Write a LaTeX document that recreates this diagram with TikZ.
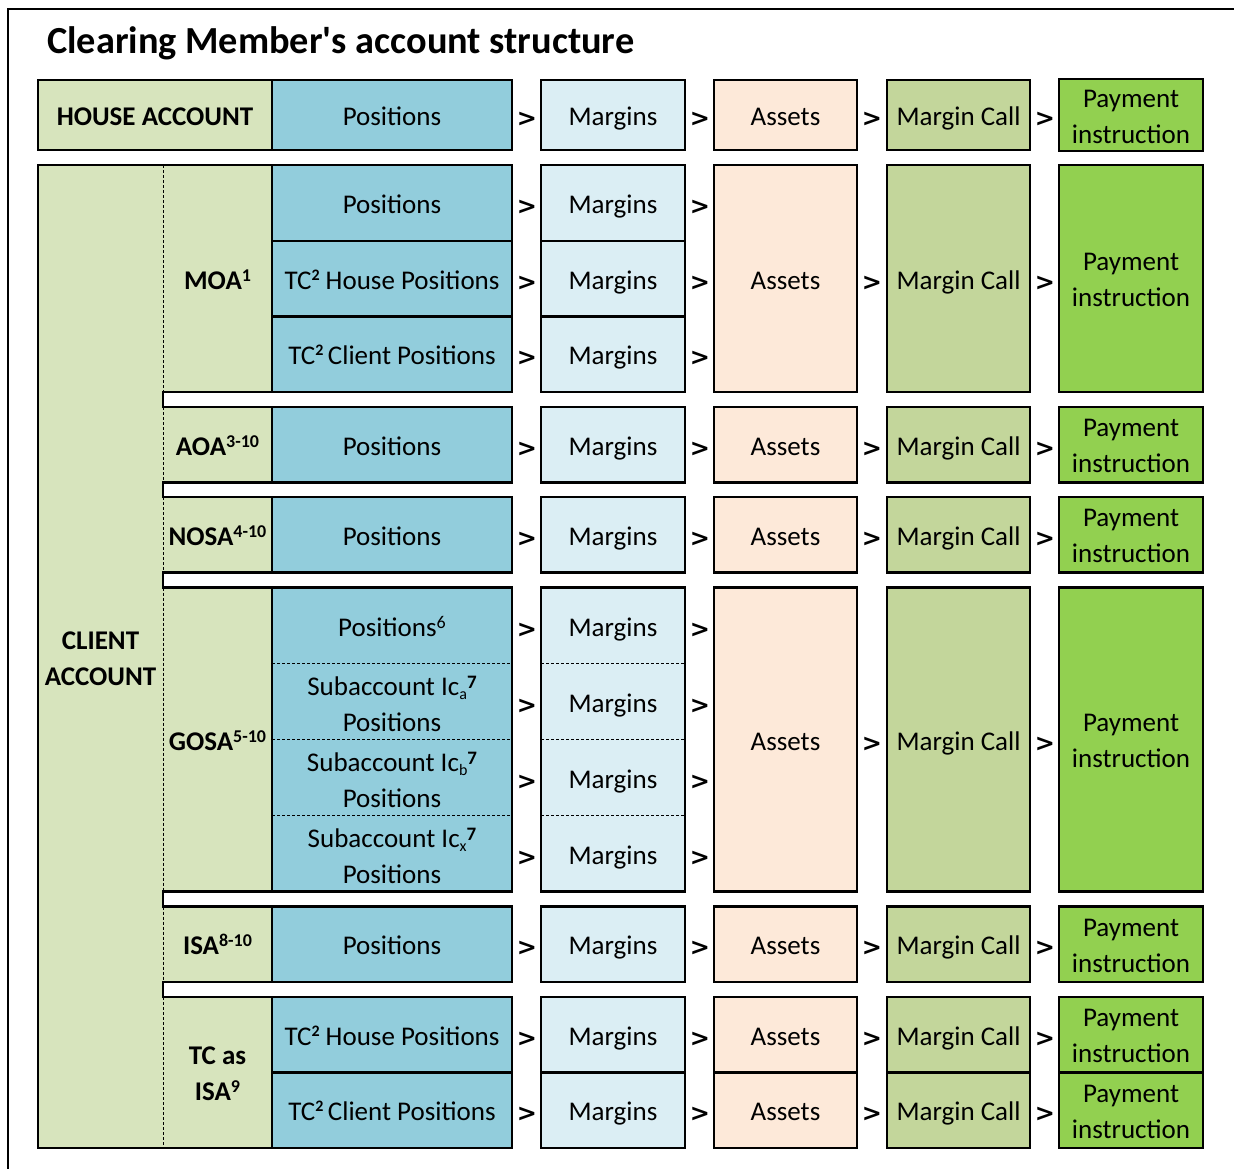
\documentclass[tikz,border=0pt]{standalone}
\usepackage{fontspec}
\setmainfont{Carlito}
\newfontfamily\titlefont{Carlito}[Ligatures=TeXOff]
\newfontfamily\arrfont{DejaVu Sans}
\definecolor{lblg}{HTML}{D7E4BD}
\definecolor{posc}{HTML}{92CDDC}
\definecolor{marc}{HTML}{DBEEF4}
\definecolor{assc}{HTML}{FDE9D9}
\definecolor{mcc}{HTML}{C3D69B}
\definecolor{payc}{HTML}{92D050}
\newcommand{\cellnode}[7]{\node[#6,minimum width={(#4)-(#2)},minimum height={(#5)-(#3)}] (#1) at ({((#2)+(#4))/2},{((#3)+(#5))/2}) {#7};}
\newcommand{\arrnode}[3]{\node[arr] (#1) at (#2,#3) {>};}
\newcommand{\two}[3][-3pt]{\raisebox{#1}[\height][\depth]{\begin{tabular}{@{}c@{}}#2\\#3\end{tabular}}}
\newcommand{\sps}[1]{\raisebox{8pt}{\fontsize{18}{18}\selectfont #1}}
\newcommand{\tcs}{TC\raisebox{9pt}{\fontsize{16}{16}\selectfont\bfseries 2}}
\newcommand{\ic}[1]{Ic\raisebox{-4pt}{\fontsize{16}{16}\selectfont #1}\raisebox{7pt}{\fontsize{19}{19}\selectfont\bfseries 7}}
\tikzset{
 cellbase/.style={inner sep=0pt, outer sep=0pt, align=center, text=black},
 one/.style={text height=24pt, text depth=2.6pt},
 cell/.style={cellbase, draw=black, line width=2.4pt},
 cellone/.style={cell, one},
 cellnd/.style={cellbase},
 border/.style={draw=black, line width=2.4pt},
 dashln/.style={draw=black, line width=0.9pt, dash pattern=on 3pt off 2pt},
 arr/.style={inner sep=0pt, font=\fontsize{24}{24}\selectfont\arrfont\bfseries},
 lbl/.style={cellnd, fill=lblg, font=\fontsize{27}{36}\selectfont\bfseries},
 titlest/.style={anchor=base west, inner sep=0pt, font=\fontsize{38.3}{40}\selectfont\titlefont\bfseries},
}
\begin{document}
\begin{tikzpicture}[x=1pt,y=-1pt,font=\fontsize{27}{36}\selectfont]
\useasboundingbox (0,0) rectangle (1234,1169);
\draw[border] (1234,9) -- (8,9) -- (8,1169);
\node[titlest] (title) at (47,54) {Clearing Member's account structure};

% ---------- house account
\cellnode{hlab}{38}{80}{272}{150}{cellone,fill=lblg,font=\fontsize{27}{36}\selectfont\bfseries}{HOUSE ACCOUNT}
\cellnode{hpos}{272}{80}{512}{150}{cellone,fill=posc}{Positions}
\cellnode{hmar}{541}{80}{685}{150}{cellone,fill=marc}{Margins}
\cellnode{hass}{714}{80}{857}{150}{cellone,fill=assc}{Assets}
\cellnode{hmc}{887}{80}{1030}{150}{cellone,fill=mcc}{Margin Call}
\cellnode{hpay}{1059}{80}{1203}{150}{cell,fill=payc}{\two{Payment}{instruction}}
\arrnode{ha1}{527}{119.5}\arrnode{ha2}{700}{119.5}\arrnode{ha3}{872}{119.5}\arrnode{ha4}{1045}{119.5}

% ---------- client labels (fills)
\cellnode{client}{38}{165}{163}{1148}{lbl}{\two[-3.5pt]{CLIENT}{ACCOUNT}}
\cellnode{moaL}{163}{165}{272}{392}{lbl,one}{MOA\sps{1}}
\cellnode{aoaL}{163}{407}{272}{482.5}{lbl,one}{AOA\sps{3-10}}
\cellnode{nosaL}{163}{497}{272}{572.5}{lbl,one}{NOSA\sps{4-10}}
\cellnode{gosaL}{163}{587.5}{272}{891.5}{lbl,one}{GOSA\sps{5-10}}
\cellnode{isaL}{163}{906.5}{272}{982}{lbl,one}{ISA\sps{8-10}}
\cellnode{tcL}{163}{997}{272}{1148}{lbl}{\two[-2.5pt]{TC as}{ISA\sps{9}}}

% ---------- MOA
\cellnode{moaP1}{272}{165}{512}{240.7}{cellone,fill=posc}{Positions}
\cellnode{moaP2}{272}{240.7}{512}{316.3}{cellone,fill=posc}{\tcs{} House Positions}
\cellnode{moaP3}{272}{316.3}{512}{392}{cellone,fill=posc}{\tcs\,Client Positions}
\cellnode{moaM1}{541}{165}{685}{240.7}{cellone,fill=marc}{Margins}
\cellnode{moaM2}{541}{240.7}{685}{316.3}{cellone,fill=marc}{Margins}
\cellnode{moaM3}{541}{316.3}{685}{392}{cellone,fill=marc}{Margins}
\cellnode{moaA}{714}{165}{857}{392}{cellone,fill=assc}{Assets}
\cellnode{moaC}{887}{165}{1030}{392}{cellone,fill=mcc}{Margin Call}
\cellnode{moaY}{1059}{165}{1203}{392}{cell,fill=payc}{\two{Payment}{instruction}}
\arrnode{moaa1}{527}{207.35}\arrnode{moaa2}{527}{283}\arrnode{moaa3}{527}{358.65}
\arrnode{moab1}{700}{207.35}\arrnode{moab2}{700}{283}\arrnode{moab3}{700}{358.65}
\arrnode{moac}{872}{283}\arrnode{moad}{1045}{283}

% ---------- AOA
\cellnode{aoaP}{272}{407}{512}{482.5}{cellone,fill=posc}{Positions}
\cellnode{aoaM}{541}{407}{685}{482.5}{cellone,fill=marc}{Margins}
\cellnode{aoaA}{714}{407}{857}{482.5}{cellone,fill=assc}{Assets}
\cellnode{aoaC}{887}{407}{1030}{482.5}{cellone,fill=mcc}{Margin Call}
\cellnode{aoaY}{1059}{407}{1203}{482.5}{cell,fill=payc}{\two{Payment}{instruction}}
\arrnode{aoaa1}{527}{449.25}\arrnode{aoaa2}{700}{449.25}\arrnode{aoaa3}{872}{449.25}\arrnode{aoaa4}{1045}{449.25}

% ---------- NOSA
\cellnode{nosaP}{272}{497}{512}{572.5}{cellone,fill=posc}{Positions}
\cellnode{nosaM}{541}{497}{685}{572.5}{cellone,fill=marc}{Margins}
\cellnode{nosaA}{714}{497}{857}{572.5}{cellone,fill=assc}{Assets}
\cellnode{nosaC}{887}{497}{1030}{572.5}{cellone,fill=mcc}{Margin Call}
\cellnode{nosaY}{1059}{497}{1203}{572.5}{cell,fill=payc}{\two{Payment}{instruction}}
\arrnode{nosaa1}{527}{539.25}\arrnode{nosaa2}{700}{539.25}\arrnode{nosaa3}{872}{539.25}\arrnode{nosaa4}{1045}{539.25}

% ---------- GOSA
\cellnode{gP1}{272}{587.5}{512}{663.5}{cellnd,one,fill=posc}{Positions\sps{6}}
\cellnode{gP2}{272}{663.5}{512}{739.5}{cellnd,fill=posc}{\two[-5pt]{Subaccount \ic{a}}{Positions}}
\cellnode{gP3}{272}{739.5}{512}{815.5}{cellnd,fill=posc}{\two[-5pt]{Subaccount \ic{b}}{Positions}}
\cellnode{gP4}{272}{815.5}{512}{891.5}{cellnd,fill=posc}{\two[-5pt]{Subaccount \ic{x}}{Positions}}
\draw[dashln] (gP1.south west) -- (gP1.south east);
\draw[dashln] (gP2.south west) -- (gP2.south east);
\draw[dashln] (gP3.south west) -- (gP3.south east);
\draw[border] (gP1.north west) rectangle (gP4.south east);
\cellnode{gM1}{541}{587.5}{685}{663.5}{cellnd,one,fill=marc}{Margins}
\cellnode{gM2}{541}{663.5}{685}{739.5}{cellnd,one,fill=marc}{Margins}
\cellnode{gM3}{541}{739.5}{685}{815.5}{cellnd,one,fill=marc}{Margins}
\cellnode{gM4}{541}{815.5}{685}{891.5}{cellnd,one,fill=marc}{Margins}
\draw[dashln] (gM1.south west) -- (gM1.south east);
\draw[dashln] (gM2.south west) -- (gM2.south east);
\draw[dashln] (gM3.south west) -- (gM3.south east);
\draw[border] (gM1.north west) rectangle (gM4.south east);
\cellnode{gA}{714}{587.5}{857}{891.5}{cellone,fill=assc}{Assets}
\cellnode{gC}{887}{587.5}{1030}{891.5}{cellone,fill=mcc}{Margin Call}
\cellnode{gY}{1059}{587.5}{1203}{891.5}{cell,fill=payc}{\two{Payment}{instruction}}
\arrnode{ga1}{527}{630}\arrnode{ga2}{527}{706}\arrnode{ga3}{527}{782}\arrnode{ga4}{527}{858}
\arrnode{gb1}{700}{630}\arrnode{gb2}{700}{706}\arrnode{gb3}{700}{782}\arrnode{gb4}{700}{858}
\arrnode{gc}{872}{744}\arrnode{gd}{1045}{744}

% ---------- ISA
\cellnode{isaP}{272}{906.5}{512}{982}{cellone,fill=posc}{Positions}
\cellnode{isaM}{541}{906.5}{685}{982}{cellone,fill=marc}{Margins}
\cellnode{isaA}{714}{906.5}{857}{982}{cellone,fill=assc}{Assets}
\cellnode{isaC}{887}{906.5}{1030}{982}{cellone,fill=mcc}{Margin Call}
\cellnode{isaY}{1059}{906.5}{1203}{982}{cell,fill=payc}{\two{Payment}{instruction}}
\arrnode{isaa1}{527}{948.75}\arrnode{isaa2}{700}{948.75}\arrnode{isaa3}{872}{948.75}\arrnode{isaa4}{1045}{948.75}

% ---------- TC as ISA
\cellnode{tcP1}{272}{997}{512}{1072.5}{cellone,fill=posc}{\tcs{} House Positions}
\cellnode{tcP2}{272}{1072.5}{512}{1148}{cellone,fill=posc}{\tcs\,Client Positions}
\cellnode{tcM1}{541}{997}{685}{1072.5}{cellone,fill=marc}{Margins}
\cellnode{tcM2}{541}{1072.5}{685}{1148}{cellone,fill=marc}{Margins}
\cellnode{tcA1}{714}{997}{857}{1072.5}{cellone,fill=assc}{Assets}
\cellnode{tcA2}{714}{1072.5}{857}{1148}{cellone,fill=assc}{Assets}
\cellnode{tcC1}{887}{997}{1030}{1072.5}{cellone,fill=mcc}{Margin Call}
\cellnode{tcC2}{887}{1072.5}{1030}{1148}{cellone,fill=mcc}{Margin Call}
\cellnode{tcY1}{1059}{997}{1203}{1072.5}{cell,fill=payc}{\two{Payment}{instruction}}
\cellnode{tcY2}{1059}{1072.5}{1203}{1148}{cell,fill=payc}{\two{Payment}{instruction}}
\arrnode{tca1}{527}{1039.25}\arrnode{tca2}{700}{1039.25}\arrnode{tca3}{872}{1039.25}\arrnode{tca4}{1045}{1039.25}
\arrnode{tcb1}{527}{1114.75}\arrnode{tcb2}{700}{1114.75}\arrnode{tcb3}{872}{1114.75}\arrnode{tcb4}{1045}{1114.75}

% ---------- gaps between sub-accounts
\foreach \ya/\yb in {392/407, 482.5/497, 572.5/587.5, 891.5/906.5, 982/997}{
  \draw[border, fill=white] (512,\ya) -- (163,\ya) -- (163,\yb) -- (512,\yb);
}
% ---------- client outline and dashed separators
\draw[border] (272,165) -- (38,165) -- (38,1148) -- (272,1148);
\foreach \ya/\yb in {165/392, 407/482.5, 497/572.5, 587.5/891.5, 906.5/982, 997/1148}{
  \draw[dashln] (163,\ya) -- (163,\yb);
}
\end{tikzpicture}
\end{document}
